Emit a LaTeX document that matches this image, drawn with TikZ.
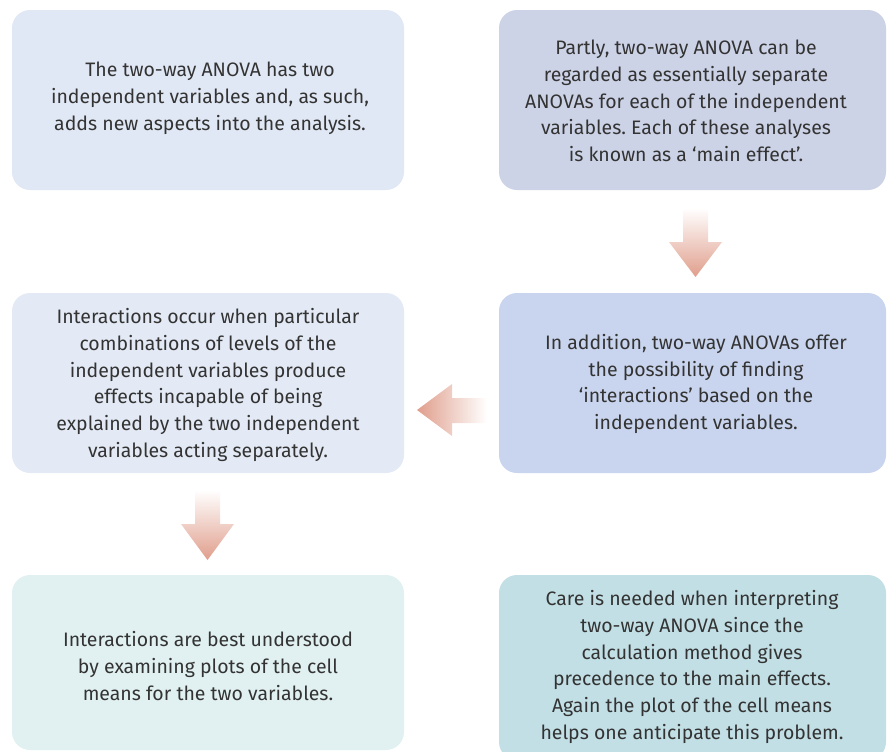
\documentclass[tikz,border=0pt]{standalone}
\usepackage{fontspec}
\setmainfont{Fira Sans}
\begin{document}
\frenchspacing
\begin{tikzpicture}[x=0.75pt,y=-0.75pt,
  box/.style={rounded corners=13.5pt, inner sep=0pt},
  txt/.style={align=center, text=textgray, font=\fontsize{14.6}{20.1}\selectfont},
  flowarrow/.style={draw=none}]
\definecolor{textgray}{HTML}{333333}
\definecolor{cTL}{HTML}{E1E8F5}
\definecolor{cTR}{HTML}{CDD3E7}
\definecolor{cML}{HTML}{E3EAF5}
\definecolor{cMR}{HTML}{C9D5EE}
\definecolor{cBL}{HTML}{E1F1F1}
\definecolor{cBR}{HTML}{C2DFE5}
\definecolor{salmon}{HTML}{E09E8C}
\useasboundingbox (0,0) rectangle (887,751);

% boxes
\fill[cTL, box] (12,10) rectangle (404,190);
\fill[cTR, box] (499,10) rectangle (886,190);
\fill[cML, box] (12,293) rectangle (404,473);
\fill[cMR, box] (499,293) rectangle (886,473);
\fill[cBL, box] (12,575) rectangle (404,750);
\fill[cBR, box] (499,575) rectangle (886,760);

% texts
\node[txt] (tl) at (210,98) {The two-way ANOVA has two\\independent variables and, as such,\\adds new aspects into the analysis.};
\node[txt] (tr) at (686,101) {Partly, two-way ANOVA can be\\regarded as essentially separate\\ANOVAs for each of the independent\\variables. Each of these analyses\\is known as a ‘main effect’.};
\node[txt] (mr) at (696,384) {In addition, two-way ANOVAs offer\\the possibility of finding\\‘interactions’ based on the\\independent variables.};
\node[txt] (ml) at (208,385) {Interactions occur when particular\\combinations of levels of the\\independent variables produce\\effects incapable of being\\explained by the two independent\\variables acting separately.};
\node[txt] (bl) at (208,666) {Interactions are best understood\\by examining plots of the cell\\means for the two variables.};
\node[txt] (br) at (692,667) {Care is needed when interpreting\\two-way ANOVA since the\\calculation method gives\\precedence to the main effects.\\Again the plot of the cell means\\helps one anticipate this problem.};

% gradient arrows
\shade[top color=white, bottom color=salmon, flowarrow]
  (683,208) -- (708,208) -- (708,242) -- (722,242) -- (695.5,277) -- (669,242) -- (683,242) -- cycle;
\shade[left color=salmon, right color=white, flowarrow]
  (487,398) -- (487,423) -- (452,423) -- (452,436) -- (417,410) -- (452,384) -- (452,398) -- cycle;
\shade[top color=white, bottom color=salmon, flowarrow]
  (195,490) -- (220,490) -- (220,524) -- (234,524) -- (207.5,560) -- (181,524) -- (195,524) -- cycle;
\end{tikzpicture}
\end{document}
